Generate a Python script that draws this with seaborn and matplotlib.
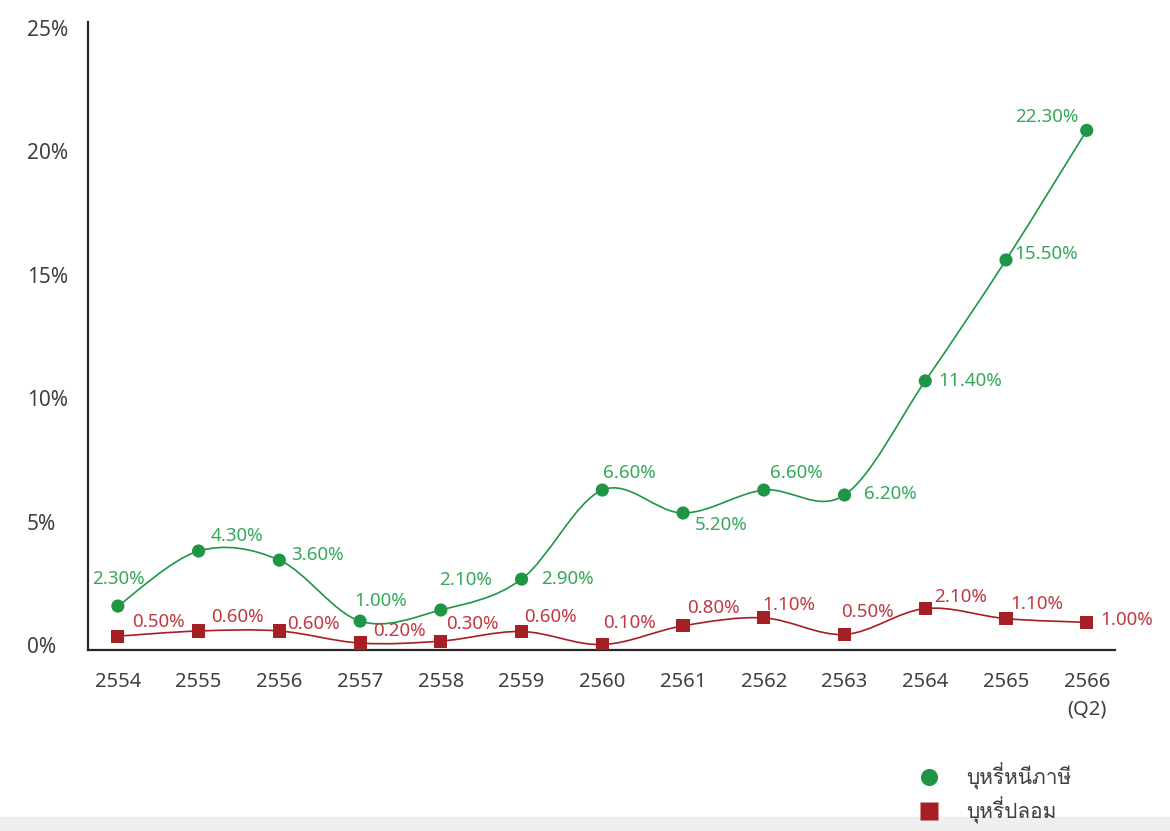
import matplotlib
matplotlib.use("Agg")
import matplotlib.pyplot as plt
from matplotlib.path import Path
from matplotlib.patches import PathPatch, Rectangle
import numpy as np
import pandas as pd
import seaborn as sns

# data
years = ["2554", "2555", "2556", "2557", "2558", "2559", "2560",
         "2561", "2562", "2563", "2564", "2565", "2566\n(Q2)"]
evaded = [1.58, 3.81, 3.44, 0.97, 1.42, 2.67, 6.28, 5.35, 6.28, 6.08, 10.7, 15.6, 20.85]
evaded_labels = ["2.30%", "4.30%", "3.60%", "1.00%", "2.10%", "2.90%", "6.60%",
                 "5.20%", "6.60%", "6.20%", "11.40%", "15.50%", "22.30%"]
fake = [0.36, 0.57, 0.57, 0.08, 0.16, 0.55, 0.02, 0.78, 1.1, 0.43, 1.48, 1.07, 0.92]
fake_labels = ["0.50%", "0.60%", "0.60%", "0.20%", "0.30%", "0.60%", "0.10%",
               "0.80%", "1.10%", "0.50%", "2.10%", "1.10%", "1.00%"]
series_names = ["บุหรี่หนีภาษี", "บุหรี่ปลอม"]
yticks = [0, 5, 10, 15, 20, 25]

green = "#1e9646"
green_txt = "#35a85a"
red = "#a51f24"
red_txt = "#bf3a40"
grey_txt = "#404040"

# label offsets in pixels (left edge, vertical centre)
evaded_off = [(-26, 27), (12, 15), (12, 5), (-6, 20), (-2, 30), (20, 0), (1, 17),
              (12, -12), (6, 17), (19, 1), (13, 0), (8, 6), (-72, 13)]
fake_off = [(14, 14), (13, 14), (8, 7), (13, 12), (5, 17), (3, 14), (1, 22),
            (4, 18), (-2, 13), (-3, 22), (9, 12), (4, 15), (14, 2)]

sns.set_theme(style="white")
plt.rcParams['font.family'] = ['Noto Sans Thai Looped', 'DejaVu Sans']

df = pd.DataFrame({
    "pos": list(range(len(years))) * 2,
    "value": evaded + fake,
    "series": [series_names[0]] * len(years) + [series_names[1]] * len(years),
})

fig = plt.figure(figsize=(11.7, 8.31), dpi=100)
ax = fig.add_axes([88 / 1170, 1 - 650 / 831, 1027 / 1170, 628 / 831])


def smooth_path(xs, ys):
    # excel style smoothed line, cubic bezier through every point
    pts = np.column_stack([xs, ys]).astype(float)
    verts = [pts[0]]
    codes = [Path.MOVETO]
    n = len(pts)
    for i in range(n - 1):
        p0 = pts[i - 1] if i > 0 else pts[i]
        p1 = pts[i]
        p2 = pts[i + 1]
        p3 = pts[i + 2] if i + 2 < n else pts[i + 1]
        c1 = p1 + (p2 - p0) / 6
        c2 = p2 - (p3 - p1) / 6
        verts += [c1, c2, p2]
        codes += [Path.CURVE4] * 3
    return Path(verts, codes)


xs = np.arange(len(years))
ax.add_patch(PathPatch(smooth_path(xs, evaded), fill=False, edgecolor=green, lw=1.2, zorder=2))
ax.add_patch(PathPatch(smooth_path(xs, fake), fill=False, edgecolor=red, lw=1.2, zorder=2))

sns.scatterplot(data=df, x="pos", y="value", hue="series", style="series",
                palette=[green, red], markers=["o", "s"], s=90, edgecolor="none",
                ax=ax, zorder=3)

for i in range(len(years)):
    ax.annotate(evaded_labels[i], (xs[i], evaded[i]), xytext=evaded_off[i],
                textcoords="offset pixels", ha="left", va="center",
                fontsize=13.5, color=green_txt)
    ax.annotate(fake_labels[i], (xs[i], fake[i]), xytext=fake_off[i],
                textcoords="offset pixels", ha="left", va="center",
                fontsize=13.5, color=red_txt)

ax.set_xlim(-0.37, 12.35)
ax.set_ylim(-0.2, 25.24)
ax.set_xticks(xs)
ax.set_xticklabels(years, linespacing=1.5)
ax.set_yticks(yticks)
ax.set_yticklabels([f"{t}%" for t in yticks], ha="left")
ax.tick_params(axis="x", length=0, pad=16, labelsize=14.5, labelcolor=grey_txt)
ax.tick_params(axis="y", length=0, pad=44, labelsize=15, labelcolor=grey_txt)
ax.set_xlabel("")
ax.set_ylabel("")
for side in ["top", "right"]:
    ax.spines[side].set_visible(False)
for side in ["left", "bottom"]:
    ax.spines[side].set_color("#262626")
    ax.spines[side].set_linewidth(1.6)

sns.move_legend(ax, "center left", bbox_to_anchor=(0.78, -0.228), frameon=False,
                title=None, fontsize=15, labelspacing=0.3, handletextpad=0.8,
                markerscale=1.3)
for t in ax.get_legend().get_texts():
    t.set_color(grey_txt)
    t.set_family(["Loma", "DejaVu Sans"])
    t.set_fontsize(15)

fig.patches.append(Rectangle((0, 0), 1, 14 / 831, transform=fig.transFigure,
                             color="#efefef", zorder=-1))

fig.savefig("out.png", dpi=100)
